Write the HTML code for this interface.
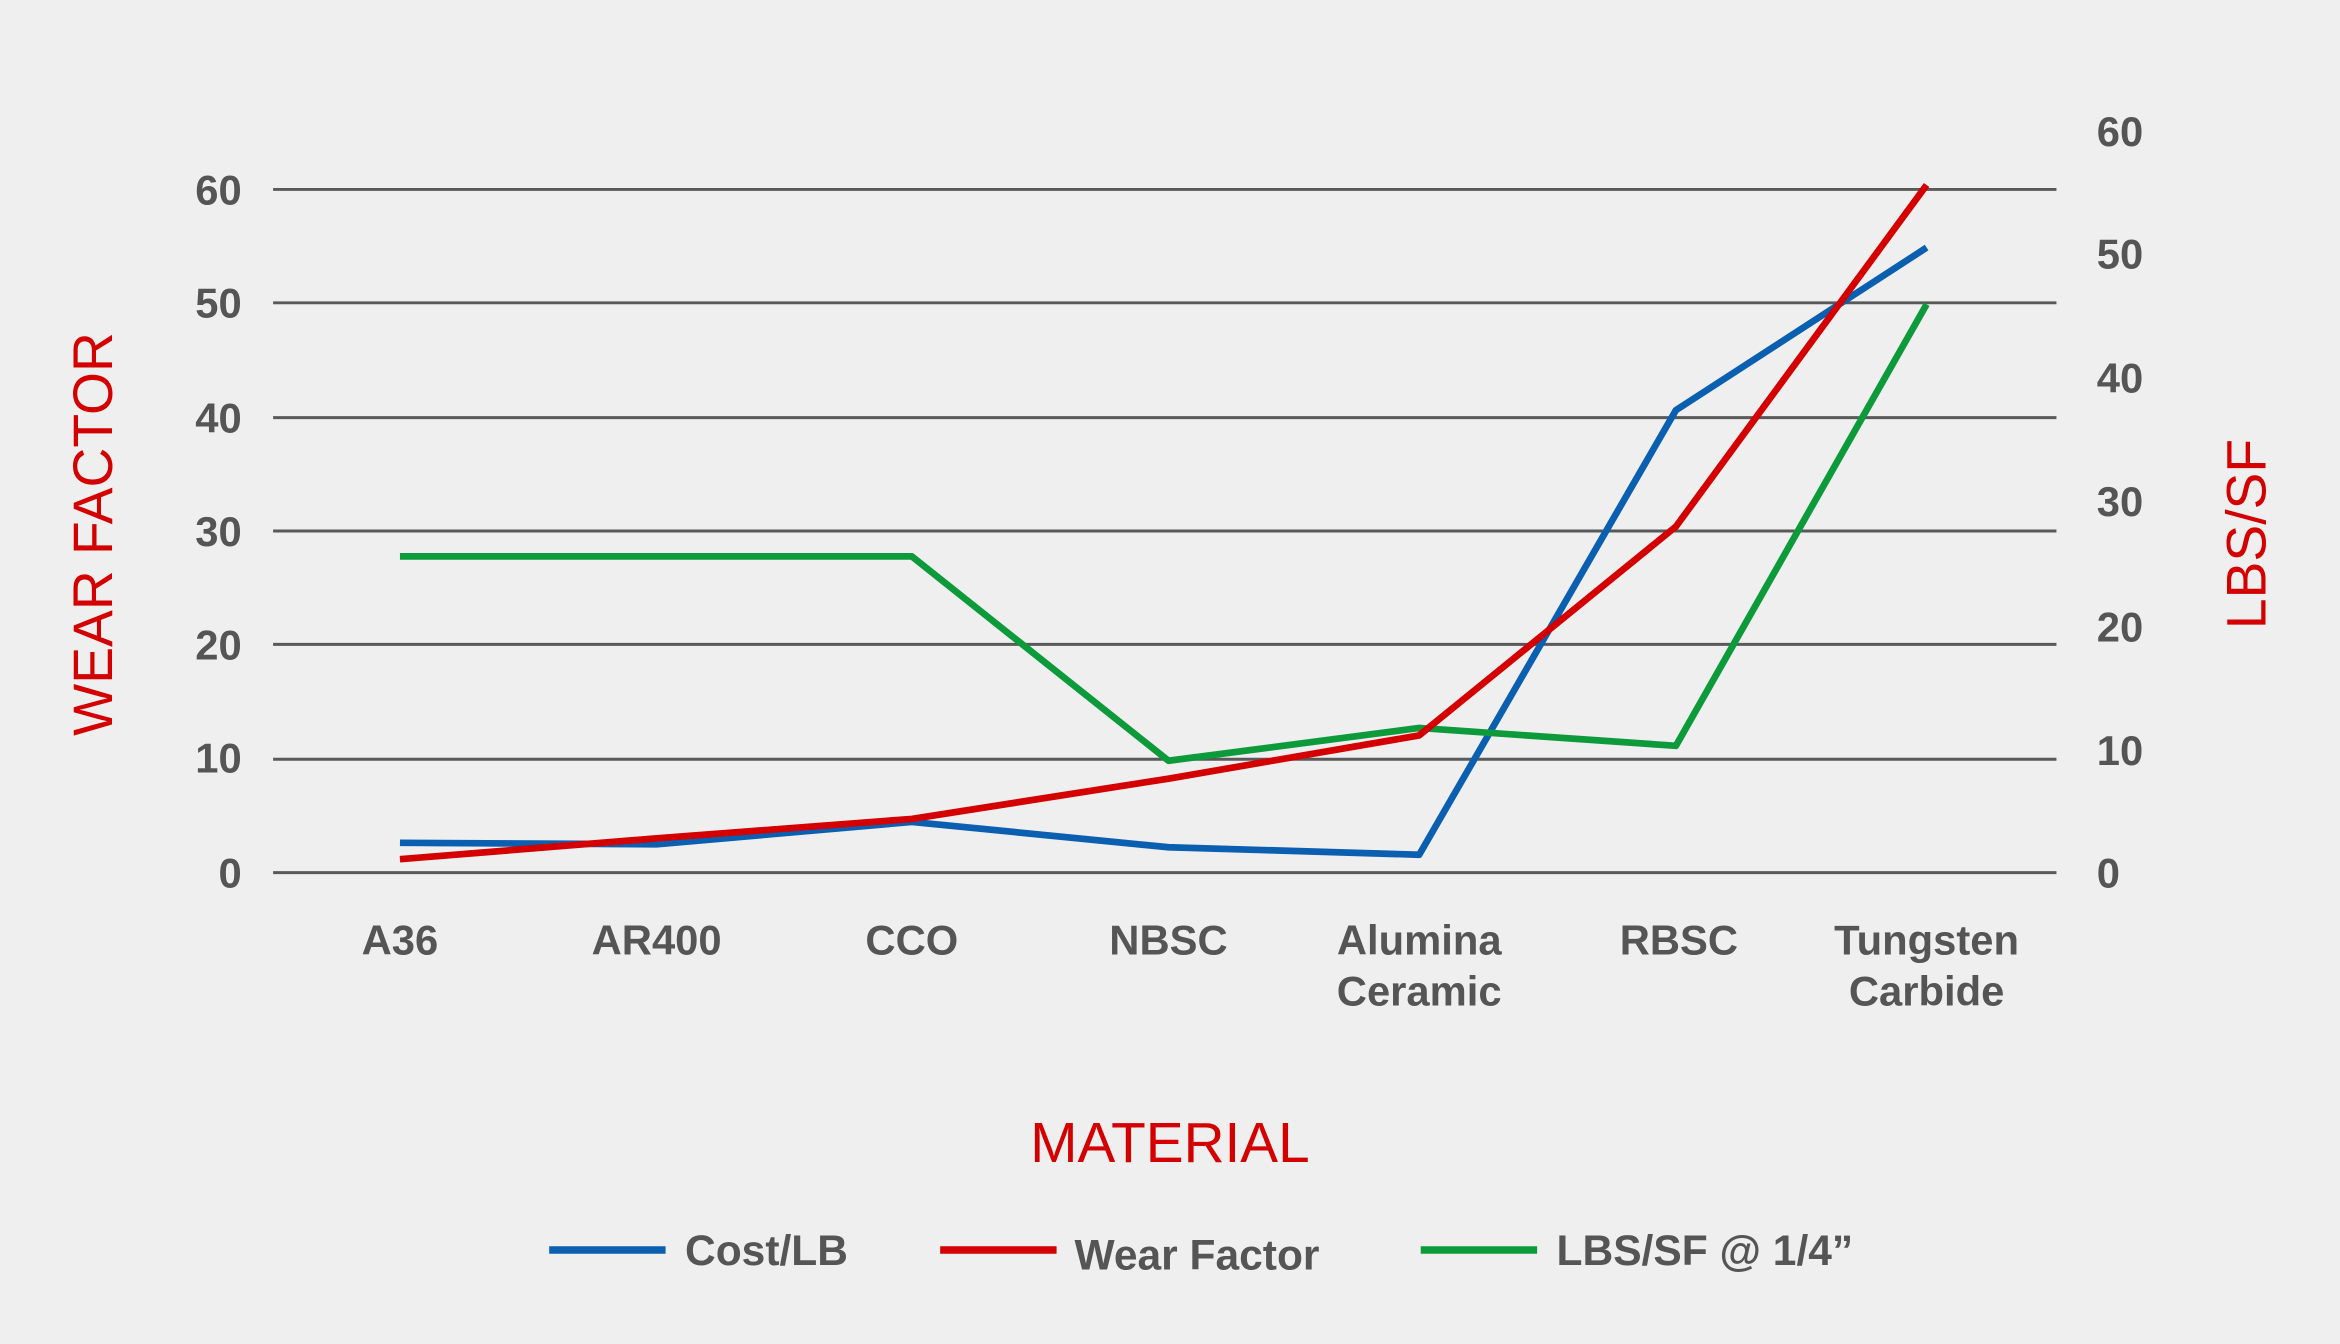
<!DOCTYPE html>
<html><head><meta charset="utf-8"><style>
html,body{margin:0;padding:0;background:#efefef;}
svg{display:block;}
text{font-family:"Liberation Sans",sans-serif;}
</style></head><body>
<svg width="2340" height="1344" viewBox="0 0 1568 901" preserveAspectRatio="none" xmlns="http://www.w3.org/2000/svg">
<rect width="1568" height="901" fill="#efefef"/>
<g stroke="#595959" stroke-width="2">
<line x1="183" y1="127" x2="1378" y2="127"/>
<line x1="183" y1="203" x2="1378" y2="203"/>
<line x1="183" y1="280" x2="1378" y2="280"/>
<line x1="183" y1="356" x2="1378" y2="356"/>
<line x1="183" y1="432" x2="1378" y2="432"/>
<line x1="183" y1="509" x2="1378" y2="509"/>
<line x1="183" y1="585" x2="1378" y2="585"/>
</g>
<g fill="#555" font-size="28" font-weight="bold" text-anchor="end">
<text x="162" y="137">60</text><text x="162" y="213">50</text><text x="162" y="290">40</text>
<text x="162" y="366">30</text><text x="162" y="442">20</text><text x="162" y="518">10</text><text x="162" y="595">0</text>
</g>
<g fill="#555" font-size="28" font-weight="bold" text-anchor="start">
<text x="1405" y="98">60</text><text x="1405" y="180">50</text><text x="1405" y="263">40</text>
<text x="1405" y="346">30</text><text x="1405" y="430">20</text><text x="1405" y="513">10</text><text x="1405" y="595">0</text>
</g>
<g fill="#555" font-size="28" font-weight="bold" text-anchor="middle">
<text x="268" y="640">A36</text><text x="440" y="640">AR400</text><text x="611" y="640">CCO</text>
<text x="783" y="640">NBSC</text><text x="951" y="640">Alumina</text><text x="951" y="674">Ceramic</text>
<text x="1125" y="640">RBSC</text><text x="1291" y="640">Tungsten</text><text x="1291" y="674">Carbide</text>
</g>
<text transform="translate(75,358) rotate(-90)" fill="#d40000" font-size="37" text-anchor="middle">WEAR FACTOR</text>
<text transform="translate(1518,358) rotate(-90)" fill="#d40000" font-size="37" text-anchor="middle">LBS/SF</text>
<text x="784" y="779" fill="#d40000" font-size="38" text-anchor="middle">MATERIAL</text>
<g fill="none" stroke-width="4.5" stroke-linejoin="round">
<polyline stroke="#0b5fb0" points="268,565 440,566 611,551 783,568 951,573 1123,275 1291,166"/>
<polyline stroke="#0c9a3a" points="268,373 440,373 611,373 783,510 951,488 1123,500 1291,204"/>
<polyline stroke="#d40000" points="268,576 440,562 611,549 783,522 951,493 1123,353 1291,124"/>
</g>
<g stroke-width="5">
<line x1="368" y1="838" x2="446" y2="838" stroke="#0b5fb0"/>
<line x1="630" y1="838" x2="708" y2="838" stroke="#d40000"/>
<line x1="952" y1="838" x2="1030" y2="838" stroke="#0c9a3a"/>
</g>
<g fill="#555" font-size="28.5" font-weight="bold">
<text x="459" y="848">Cost/LB</text>
<text x="720" y="851">Wear Factor</text>
<text x="1043" y="848">LBS/SF @ 1/4”</text>
</g>
</svg>
</body></html>
